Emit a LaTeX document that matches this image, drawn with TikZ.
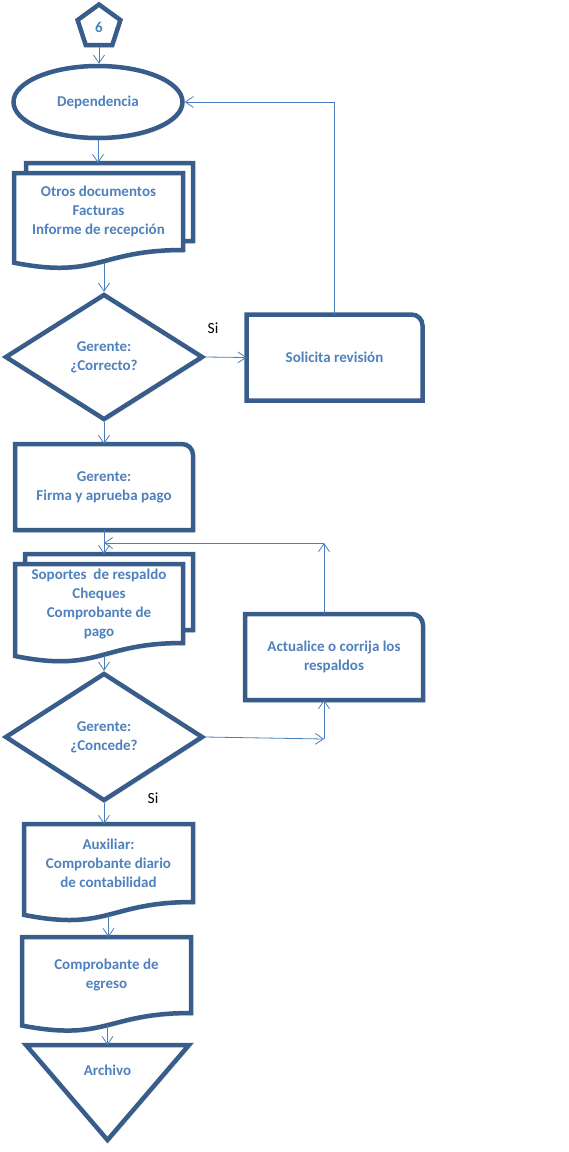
\documentclass[tikz,border=0pt]{standalone}
\usepackage{fontspec}
\setmainfont{Carlito}
\usetikzlibrary{arrows.meta,positioning,shapes.geometric,shadows,calc,backgrounds}
\definecolor{edgeblue}{RGB}{56,93,138}
\definecolor{inkblue}{RGB}{79,129,189}
\definecolor{wireblue}{RGB}{74,126,187}
\tikzset{
  outline/.style={draw=edgeblue,line width=4.5pt,fill=white,
    drop shadow={opacity=0.22,shadow xshift=1.5pt,shadow yshift=-2.5pt}},
  boxtext/.style={font=\fontsize{15}{19}\selectfont\bfseries,text=inkblue,align=center},
  shapenode/.style={boxtext,rectangle,inner sep=0pt,outer sep=0pt},
  decide/.style={diamond,outline,boxtext,inner sep=0pt,minimum width=198pt,minimum height=126pt},
  wire/.style={draw=wireblue,line width=0.8pt,-{Straight Barb[length=8pt,width=11pt]}},
  note/.style={font=\fontsize{15.5}{19}\selectfont,text=black}
}
% document outline: wavy bottom below the node
\newcommand{\docedge}[1]{%
  \begin{scope}[on background layer]
    \draw[outline] (#1.north west) -- (#1.north east) -- (#1.south east)
      .. controls (#1.south) and ($(#1.north)!1.38!(#1.south)$)
      .. ($(#1.north west)!1.165!(#1.south west)$) -- cycle;
  \end{scope}
  \coordinate (#1-wave) at ($(#1.north)!1.163!(#1.south)$);}
% box with one round corner
\newcommand{\cardedge}[1]{%
  \begin{scope}[on background layer]
    \draw[outline] (#1.north west) -- (#1.south west) -- (#1.south east)
      -- ([yshift=-11pt]#1.north east) arc[start angle=0,end angle=90,radius=11pt] -- cycle;
  \end{scope}}
\begin{document}
\begin{tikzpicture}[x=1pt,y=1pt]
  \useasboundingbox (0,0) rectangle (568,-1152);

  % top
  \node[regular polygon,regular polygon sides=5,outline,boxtext,inner sep=0pt,minimum size=45pt] (six) at (99,-27) {6};
  \node[ellipse,outline,boxtext,minimum width=169pt,minimum height=72pt] (dep) at (98,-102) {Dependencia};

  % first documents
  \node[shapenode,anchor=north west,minimum width=167pt,minimum height=78pt] (otrosb) at (26,-163) {};
  \node[shapenode,anchor=north west,minimum width=169pt,minimum height=77pt] (otros) at (14,-173) {Otros documentos\\Facturas\\Informe de recepción};
  \docedge{otrosb}
  \docedge{otros}

  \node[decide] (dia1) at (104,-357) {Gerente:\\¿Correcto?};
  \node[note] (si1) at (213,-328) {Si};
  \node[shapenode,minimum width=176pt,minimum height=86pt] (sol) at (334.5,-357.5) {Solicita revisión};
  \cardedge{sol}

  \node[shapenode,minimum width=178pt,minimum height=86pt] (firma) at (104,-487) {Gerente:\\Firma y aprueba pago};
  \cardedge{firma}

  % second documents
  \node[shapenode,anchor=north west,minimum width=168pt,minimum height=76pt] (soportesb) at (25,-554) {};
  \node[shapenode,anchor=north west,minimum width=168pt,minimum height=79pt] (soportes) at (15,-564) {Soportes~ de respaldo\\Cheques\\Comprobante de\\pago};
  \docedge{soportesb}
  \docedge{soportes}

  \node[shapenode,minimum width=178pt,minimum height=86pt] (act) at (334,-657) {Actualice o corrija los\\respaldos};
  \cardedge{act}

  \node[decide,minimum height=128pt] (dia2) at (104,-737) {Gerente:\\¿Concede?};
  \node[note] (si2) at (153,-798) {Si};

  % bottom
  \node[shapenode,anchor=north west,minimum width=169pt,minimum height=78pt] (aux) at (24,-824) {Auxiliar:\\Comprobante diario\\de contabilidad};
  \docedge{aux}
  \node[shapenode,anchor=north west,minimum width=169pt,minimum height=76pt] (egr) at (22,-937) {Comprobante de\\egreso};
  \docedge{egr}
  \node[shapenode,anchor=north west,minimum width=163pt,minimum height=50pt] (arch) at (26,-1045) {Archivo};
  \begin{scope}[on background layer]
    \draw[outline] (arch.north west) -- (arch.north east) -- ($(arch.north)!1.9!(arch.south)$) -- cycle;
  \end{scope}

  % connectors
  \coordinate (turn1) at (324,-739);
  \coordinate (turn2) at (324,-543);
  \draw[wire] (six.south) -- (six.south |- dep.north);
  \draw[wire] (dep.south) -- (dep.south |- otrosb.north);
  \draw[wire] (dia1.north |- otros-wave) -- (dia1.north);
  \draw[wire] (dia1.east) -- (sol.west);
  \draw[wire] (sol.north) |- (dep.east);
  \draw[wire] (dia1.south) -- (firma.north);
  \draw[wire] (firma.south) -- (firma.south |- soportesb.north);
  \draw[wire] (dia2.north |- soportes-wave) -- (dia2.north);
  \draw[wire] (dia2.east) -- (turn1);
  \draw[wire] (turn1) -- (turn1 |- act.south);
  \draw[wire] (turn1 |- act.north) -- (turn2);
  \draw[wire] (turn2) -- (turn2 -| firma.south);
  \draw[wire] (dia2.south) -- (dia2.south |- aux.north);
  \draw[wire] (aux-wave) -- (aux-wave |- egr.north);
  \draw[wire] (arch.north |- egr-wave) -- (arch.north);
\end{tikzpicture}
\end{document}
